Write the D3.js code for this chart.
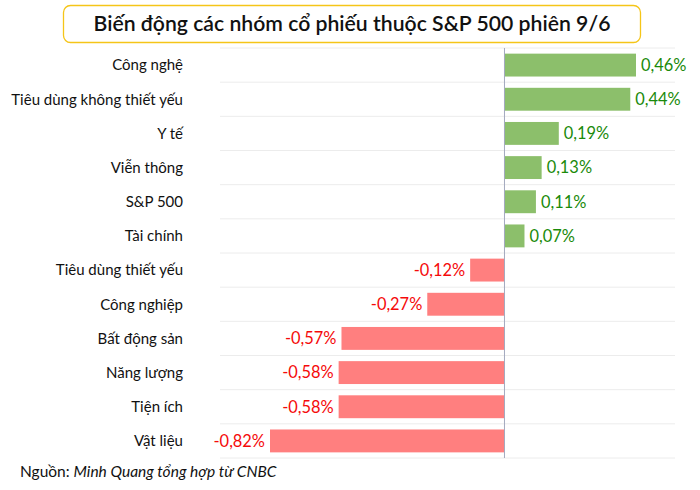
<!DOCTYPE html>
<html><head><meta charset="utf-8">
<script src="https://cdn.jsdelivr.net/npm/d3@7"></script>
<style>body{margin:0;background:#fff;font-family:Lato,sans-serif;}</style>
</head><body>
<svg id="c" width="700" height="490"></svg>
<script>
const categories = ["Công nghệ","Tiêu dùng không thiết yếu","Y tế","Viễn thông","S&P 500","Tài chính","Tiêu dùng thiết yếu","Công nghiệp","Bất động sản","Năng lượng","Tiện ích","Vật liệu"];
const values = [0.46,0.44,0.19,0.13,0.11,0.07,-0.12,-0.27,-0.57,-0.58,-0.58,-0.82];
const title = "Biến động các nhóm cổ phiếu thuộc S&P 500 phiên 9/6";

const svg = d3.select("#c");
const x = d3.scaleLinear().domain([-0.82, 0.46]).range([270, 636]);
const y = d3.scaleBand().domain(categories).range([48, 458]).paddingInner(0.33).paddingOuter(0.165);
const step = y.step();

// title box
svg.append("rect").attr("x",63.5).attr("y",5.5).attr("width",577).attr("height",37).attr("rx",7)
  .attr("fill","#fff").attr("stroke","#f5c518").attr("stroke-width",1.3);
svg.append("text").attr("x",352).attr("y",31).attr("text-anchor","middle")
  .attr("font-size",21.2).attr("font-weight",600).attr("fill","#111").text(title);

// gridlines at row boundaries
const bounds = d3.range(categories.length+1).map(i => 48 + i*step);
svg.selectAll("line.g").data(bounds).join("line")
  .attr("x1",220).attr("x2",675).attr("y1",d=>d).attr("y2",d=>d)
  .attr("stroke","#ececec").attr("stroke-width",1);

// bars
svg.selectAll("rect.b").data(values).join("rect")
  .attr("x",d=>x(Math.min(0,d))).attr("width",d=>Math.abs(x(d)-x(0)))
  .attr("y",(d,i)=>y(categories[i])).attr("height",y.bandwidth())
  .attr("fill",d=>d>=0?"#8cbf6b":"#ff7f7f");

// zero line
svg.append("line").attr("x1",x(0)).attr("x2",x(0)).attr("y1",48).attr("y2",458)
  .attr("stroke","#a3a9bf").attr("stroke-width",1);

// value labels
const fmt = v => (v<0?"-":"") + Math.abs(v).toFixed(2).replace(".",",") + "%";
svg.selectAll("text.v").data(values).join("text")
  .attr("x",d=>d>=0?x(d)+5:x(d)-5)
  .attr("y",(d,i)=>y(categories[i])+y.bandwidth()/2)
  .attr("dy","0.36em").attr("text-anchor",d=>d>=0?"start":"end")
  .attr("font-size",16.4).attr("fill",d=>d>=0?"#1a8a0a":"#f50a0a").text(fmt);

// category labels
svg.selectAll("text.c").data(categories).join("text")
  .attr("x",183).attr("y",d=>y(d)+y.bandwidth()/2).attr("dy","0.36em")
  .attr("text-anchor","end").attr("font-size",15).attr("fill","#111").text(d=>d);

// source
const s = svg.append("text").attr("x",20).attr("y",477).attr("font-size",15.5).attr("fill","#111");
s.append("tspan").text("Nguồn: ");
s.append("tspan").attr("font-style","italic").text("Minh Quang tổng hợp từ CNBC");
</script>
</body></html>
